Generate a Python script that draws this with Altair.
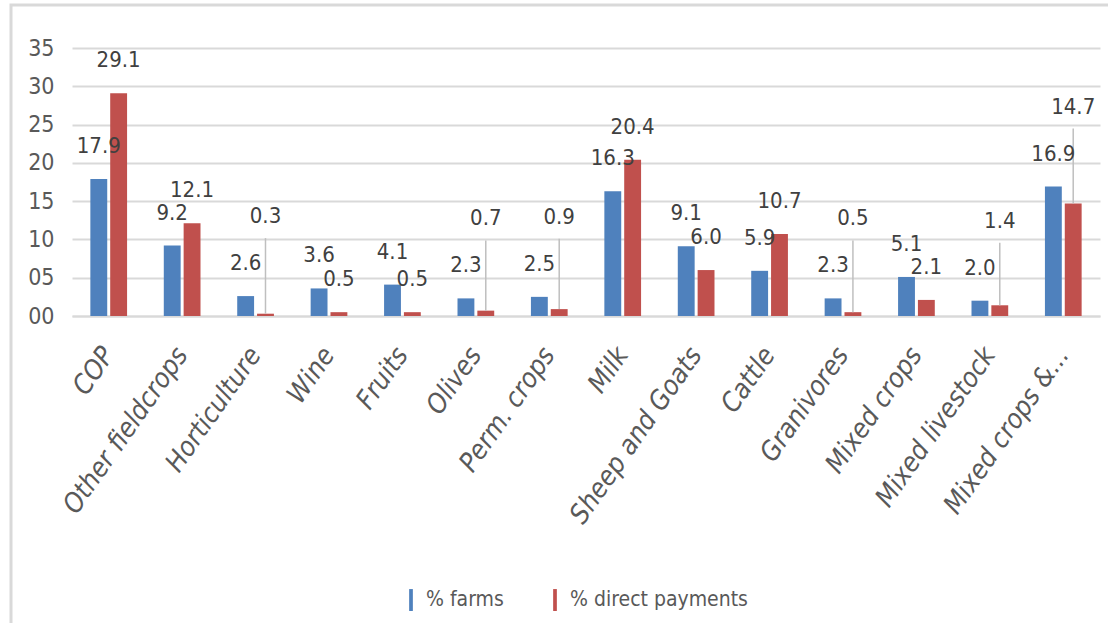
import altair as alt
import pandas as pd

categories = ["COP", "Other fieldcrops", "Horticulture", "Wine", "Fruits", "Olives",
              "Perm. crops", "Milk", "Sheep and Goats", "Cattle", "Granivores",
              "Mixed crops", "Mixed livestock", "Mixed crops &..."]
pct_farms = [17.9, 9.2, 2.6, 3.6, 4.1, 2.3, 2.5, 16.3, 9.1, 5.9, 2.3, 5.1, 2.0, 16.9]
pct_payments = [29.1, 12.1, 0.3, 0.5, 0.5, 0.7, 0.9, 20.4, 6.0, 10.7, 0.5, 2.1, 1.4, 14.7]
series = ["% farms", "% direct payments"]
colors = ["#4F81BD", "#C0504D"]
y_ticks = [0, 5, 10, 15, 20, 25, 30, 35]

rows = []
for c, f, p in zip(categories, pct_farms, pct_payments):
    # a red label that would collide with the blue one is lifted above it (Excel-style)
    lifted = abs(f - p) < 2.5
    rows.append({"cat": c, "series": series[0], "value": f, "base": f, "lifted": False})
    rows.append({"cat": c, "series": series[1], "value": p,
                 "base": max(f, p) if lifted else p, "lifted": lifted})
df = pd.DataFrame(rows)

FONT = "DejaVu Sans Condensed, sans-serif"
GREY = "#595959"

x = alt.X("cat:N", sort=categories, title=None,
          scale=alt.Scale(paddingInner=0.5, paddingOuter=0.25),
          axis=alt.Axis(labelAngle=-55, labelAlign="right", labelBaseline="middle",
                        labelFontSize=27, labelFont=FONT, labelFontStyle="italic",
                        labelColor=GREY, labelPadding=34, ticks=False,
                        domainColor="#d9d9d9", domainWidth=2, labelLimit=400,
                        labelOverlap=False))
xo = alt.XOffset("series:N", sort=series, scale=alt.Scale(paddingInner=0.15))
y_axis = alt.Axis(values=y_ticks, format="02d",
                  labelFontSize=23, labelFont=FONT, labelColor=GREY,
                  labelPadding=18, ticks=False, domain=False,
                  labelOverlap=False,
                  gridColor="#d9d9d9", gridWidth=2)


def yenc(field):
    return alt.Y(field, type="quantitative", title=None,
                 scale=alt.Scale(domain=[0, 35], nice=False), axis=y_axis)


color = alt.Color("series:N", sort=series,
                  scale=alt.Scale(domain=series, range=colors),
                  legend=alt.Legend(title=None, orient="none", direction="horizontal",
                                    legendX=328, legendY=541,
                                    symbolType="M-0.17,-1L0.17,-1L0.17,1L-0.17,1Z",
                                    symbolSize=480, symbolStrokeWidth=0,
                                    labelFont=FONT, labelFontSize=21, labelColor=GREY,
                                    labelOffset=4, columnPadding=40, labelLimit=400))

base = alt.Chart(df)
bars = base.mark_bar().encode(x=x, xOffset=xo, y=yenc("value"), color=color)

leaders = base.transform_filter("datum.lifted").mark_rule(
    color="#bfbfbf", strokeWidth=1.5, y2Offset=-58).encode(
    x=x, xOffset=xo, y=yenc("value"), y2="base:Q")

labels = base.transform_filter("!datum.lifted").mark_text(
    dy=-33, baseline="middle", fontSize=22, font=FONT, color="#404040").encode(
    x=x, xOffset=xo, y=yenc("base"), text=alt.Text("value:Q", format=".1f"))
labels_lifted = base.transform_filter("datum.lifted").mark_text(
    dy=-80, baseline="middle", fontSize=22, font=FONT, color="#404040").encode(
    x=x, xOffset=xo, y=yenc("base"), text=alt.Text("value:Q", format=".1f"))

frame = alt.Chart(pd.DataFrame({"a": [0]})).mark_rect(
    fill=None, stroke="#d9d9d9", strokeWidth=3).encode(
    x=alt.value(-61), x2=alt.value(1060), y=alt.value(-43), y2=alt.value(600))

chart = alt.layer(frame, bars, leaders, labels, labels_lifted).properties(
    width=1028, height=268,
    background="white",
    autosize=alt.AutoSizeParams(type="none"),
    padding={"left": 72, "top": 48, "right": 8, "bottom": 307},
).configure_view(stroke=None)

chart.save("out.html", embed_options={"renderer": "svg", "actions": False})
